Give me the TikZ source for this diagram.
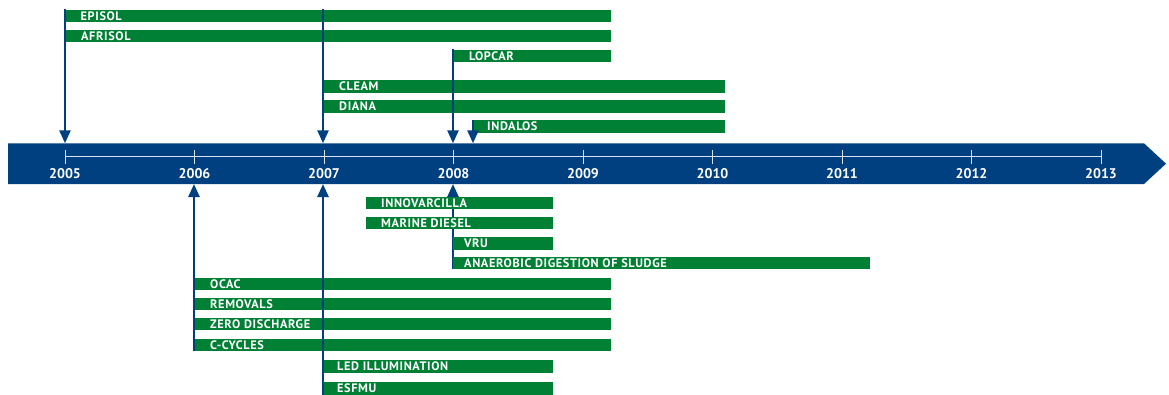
\documentclass[tikz,border=0pt]{standalone}
\usepackage{fontspec}
\setmainfont{PT Sans}
\newfontfamily\barfont[LetterSpace=5]{PT Sans}
\usetikzlibrary{arrows.meta}
\definecolor{bandblue}{RGB}{0,64,128}
\definecolor{bargreen}{RGB}{0,128,52}
\begin{document}
\begin{tikzpicture}[x=1pt,y=-1pt,
  bar/.style={fill=bargreen, draw=none, minimum height=12.4pt, inner sep=0pt, anchor=north west},
  bartext/.style={anchor=west, text=white, inner sep=0pt, font=\barfont\bfseries\fontsize{12.3}{13}\selectfont},
  yeartext/.style={text=white, inner sep=0pt, font=\bfseries\fontsize{14}{15}\selectfont},
  arr/.style={draw=bandblue, line width=2.5pt, -{Triangle[width=11pt,length=13pt]}},
  tick/.style={draw=white!85!bandblue, line width=1pt}]
\useasboundingbox (0,0) rectangle (1169,394);
% timeline band
\fill[bandblue] (8,143.3) -- (1144,143.3) -- (1166,163.7) -- (1144,184) -- (8,184) -- cycle;
\coordinate (bandtop) at (0,143.3);
\coordinate (bandbot) at (0,184);
\coordinate (axisL) at (65,156.7);
\coordinate (axisR) at (1101,156.7);
\draw[tick] (axisL) -- (axisR);
\foreach \yr [count=\i from 0] in {2005,2006,2007,2008,2009,2010,2011,2012,2013}{
  \coordinate (tk\yr) at (65+\i*129.5,150);
  \draw[tick] (tk\yr) -- ++(0,14);
  \node[yeartext] (y\yr) at (65+\i*129.5,173.3) {\yr};
}
% 2008 lower arrow lies behind the bars
\coordinate (a2008) at (453,269.1);
\draw[arr] (a2008) -- (a2008 |- bandbot);
% bars above
\node[bar, minimum width=546pt] (episol) at (65,9.3) {};
\node[bar, minimum width=546pt] (afrisol) at (65,29.3) {};
\node[bar, minimum width=158pt] (lopcar) at (453,49.3) {};
\node[bar, minimum width=402pt] (cleam) at (323,80) {};
\node[bar, minimum width=402pt] (diana) at (323,100) {};
\node[bar, minimum width=252pt] (indalos) at (473,120) {};
% bars below
\node[bar, minimum width=187pt] (innov) at (366,196.7) {};
\node[bar, minimum width=187pt] (marine) at (366,216.7) {};
\node[bar, minimum width=100pt] (vru) at (453,237) {};
\node[bar, minimum width=417pt] (anaer) at (453,256.7) {};
\node[bar, minimum width=417pt] (ocac) at (194,277.3) {};
\node[bar, minimum width=417pt] (removals) at (194,297.3) {};
\node[bar, minimum width=417pt] (zero) at (194,317.7) {};
\node[bar, minimum width=417pt] (ccycles) at (194,338.3) {};
\node[bar, minimum width=230pt] (led) at (323,360) {};
\node[bar, minimum width=230pt] (esfmu) at (323,382) {};
% texts
\node[bartext] (t-episol) at ([xshift=15.5pt]episol.west) {EPISOL};
\node[bartext] (t-afrisol) at ([xshift=16pt]afrisol.west) {AFRISOL};
\node[bartext] (t-lopcar) at ([xshift=16pt]lopcar.west) {LOPCAR};
\node[bartext] (t-cleam) at ([xshift=16pt]cleam.west) {CLEAM};
\node[bartext] (t-diana) at ([xshift=16pt]diana.west) {DIANA};
\node[bartext] (t-indalos) at ([xshift=14pt]indalos.west) {INDALOS};
\node[bartext] (t-innov) at ([xshift=15pt]innov.west) {INNOVARCILLA};
\node[bartext] (t-marine) at ([xshift=15pt]marine.west) {MARINE DIESEL};
\node[bartext] (t-vru) at ([xshift=11pt]vru.west) {VRU};
\node[bartext] (t-anaer) at ([xshift=11pt]anaer.west) {ANAEROBIC DIGESTION OF SLUDGE};
\node[bartext] (t-ocac) at ([xshift=16pt]ocac.west) {OCAC};
\node[bartext] (t-removals) at ([xshift=16pt]removals.west) {REMOVALS};
\node[bartext] (t-zero) at ([xshift=16pt]zero.west) {ZERO DISCHARGE};
\node[bartext] (t-ccycles) at ([xshift=16pt]ccycles.west) {C-CYCLES};
\node[bartext] (t-led) at ([xshift=14pt]led.west) {LED ILLUMINATION};
\node[bartext] (t-esfmu) at ([xshift=14pt]esfmu.west) {ESFMU};
% arrows
\draw[arr] (episol.north west) -- (episol.north west |- bandtop);
\draw[arr] (cleam.north west |- episol.north) -- (cleam.north west |- bandtop);
\draw[arr] (lopcar.north west) -- (lopcar.north west |- bandtop);
\draw[arr] (indalos.north west) -- (indalos.north west |- bandtop);
\draw[arr] (ccycles.south west) -- (ccycles.south west |- bandbot);
\draw[arr] (esfmu.south west) -- (esfmu.south west |- bandbot);
\end{tikzpicture}
\end{document}
